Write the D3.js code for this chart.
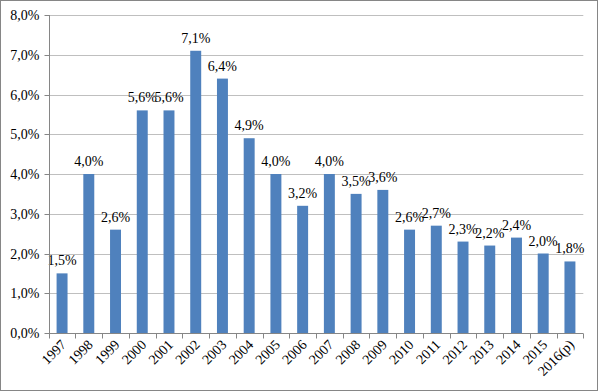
<!DOCTYPE html>
<html><head><meta charset="utf-8">
<script src="https://cdn.jsdelivr.net/npm/d3@7"></script>
<style>body{margin:0;background:#fff}svg{display:block}</style>
</head><body>
<svg id="c" width="598" height="391"></svg>
<script>
const categories = ["1997","1998","1999","2000","2001","2002","2003","2004","2005","2006","2007","2008","2009","2010","2011","2012","2013","2014","2015","2016(p)"];
const values = [1.5,4.0,2.6,5.6,5.6,7.1,6.4,4.9,4.0,3.2,4.0,3.5,3.6,2.6,2.7,2.3,2.2,2.4,2.0,1.8];
const yTicks = [0,1,2,3,4,5,6,7,8];

const svg = d3.select("#c");
const font = "'Liberation Serif','Times New Roman',serif";
const fs = 14;
const m = {left:48.7, right:583.3, top:15, bottom:333};
const fmt = v => v.toFixed(1).replace(".", ",") + "%";

svg.append("rect").attr("x",0.5).attr("y",0.5).attr("width",597).attr("height",390)
  .attr("fill","#fff").attr("stroke","#868686").attr("stroke-width",1);

const x = d3.scaleBand().domain(categories).range([m.left,m.right]).paddingInner(0.59).paddingOuter(0.295);
const y = d3.scaleLinear().domain([0,8]).range([m.bottom,m.top]);

// gridlines
svg.append("g").selectAll("line").data(yTicks.filter(d=>d>0)).join("line")
  .attr("x1",m.left).attr("x2",m.right)
  .attr("y1",d=>Math.round(y(d))+0.5).attr("y2",d=>Math.round(y(d))+0.5)
  .attr("stroke","#bfbfbf").attr("stroke-width",1);

// bars
svg.append("g").selectAll("rect").data(values).join("rect")
  .attr("x",(d,i)=>x(categories[i])).attr("width",x.bandwidth())
  .attr("y",d=>y(d)).attr("height",d=>y(0)-y(d))
  .attr("fill","#4f81bd");

// labels
svg.append("g").selectAll("text").data(values).join("text")
  .attr("x",(d,i)=>x(categories[i])+x.bandwidth()/2)
  .attr("y",d=>y(d)-8)
  .attr("text-anchor","middle")
  .attr("font-family",font).attr("font-size",fs).attr("fill","#000")
  .text(d=>fmt(d));

// y axis
const yAxis = svg.append("g").attr("transform",`translate(${Math.round(m.left)+0.5},0)`)
  .call(d3.axisLeft(y).tickValues(yTicks).tickSize(5).tickPadding(5).tickFormat(fmt));
yAxis.selectAll("line,path").attr("stroke","#868686");
yAxis.selectAll("text").attr("font-family",font).attr("font-size",fs).attr("fill","#000");
yAxis.select(".domain").attr("d",`M0,${m.top}V${m.bottom}`);
yAxis.selectAll(".tick").attr("transform",d=>`translate(0,${Math.round(y(d))+0.5})`);

// x axis
const xg = svg.append("g").attr("transform",`translate(0,${m.bottom+0.5})`);
xg.append("line").attr("x1",m.left).attr("x2",m.right).attr("stroke","#868686");
const step = x.step();
const tickPos = d3.range(categories.length+1).map(i=>m.left+i*step);
xg.selectAll("line.t").data(tickPos).join("line").attr("class","t")
  .attr("x1",d=>Math.round(d)+0.5).attr("x2",d=>Math.round(d)+0.5).attr("y1",0).attr("y2",5)
  .attr("stroke","#868686");
xg.selectAll("text").data(categories).join("text")
  .attr("transform",d=>`translate(${x(d)+x.bandwidth()/2+5},${12}) rotate(-45)`)
  .attr("text-anchor","end")
  .attr("font-family",font).attr("font-size",fs).attr("fill","#000")
  .text(d=>d);
</script>
</body></html>
